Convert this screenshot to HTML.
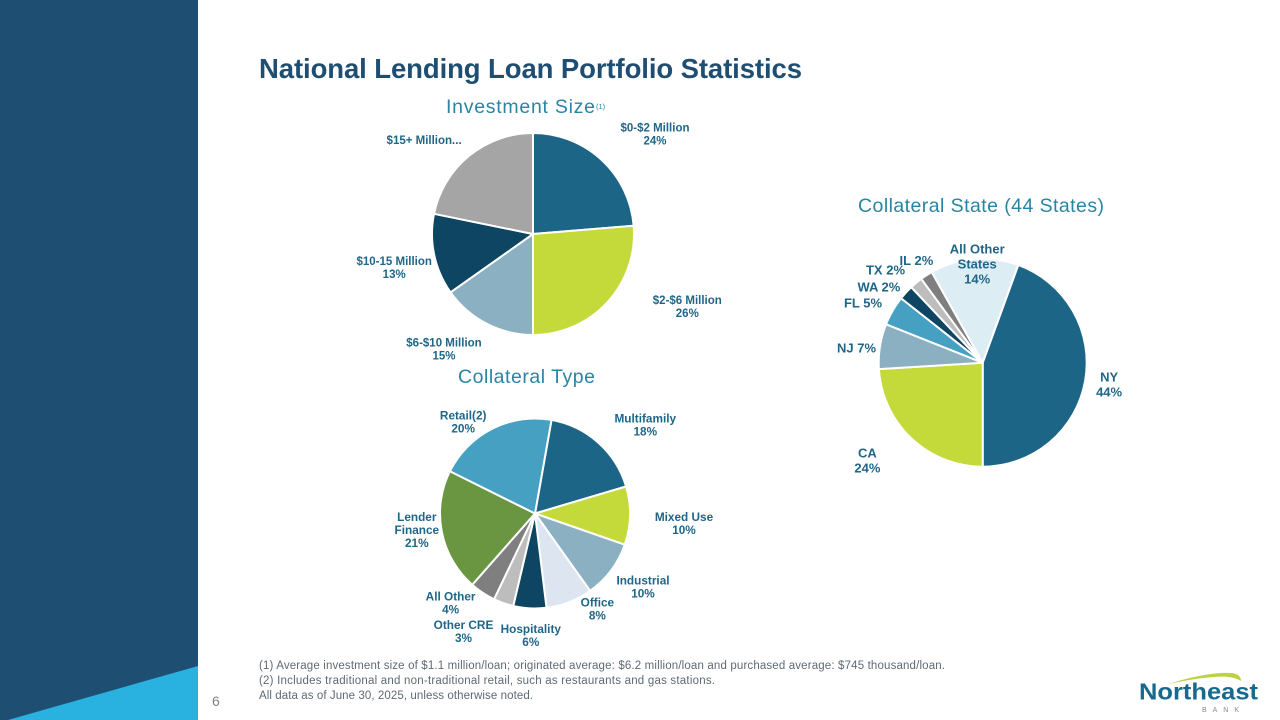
<!DOCTYPE html>
<html lang="en">
<head>
<meta charset="utf-8">
<title>National Lending Loan Portfolio Statistics</title>
<style>
html,body{margin:0;padding:0;background:#fff;}
#slide{display:block;width:1280px;height:720px;font-family:"Liberation Sans",sans-serif;}
.pie-label{font-weight:700;fill:#1f6688;text-anchor:middle;}
.pie-title{font-size:19.5px;fill:#2a84a3;}
.foot{font-size:11.5px;fill:#5e6a72;}
</style>
</head>
<body>
<svg id="slide" xmlns="http://www.w3.org/2000/svg" width="1280" height="720" viewBox="0 0 1280 720">
  <rect width="1280" height="720" fill="#ffffff"/>
  <rect x="0" y="0" width="198" height="720" fill="#1f4e73"/>
  <polygon points="198,666 198,720 8,720" fill="#29b2df"/>
  <text x="259" y="78" font-size="27.5" font-weight="700" fill="#1f4e73" textLength="543">National Lending Loan Portfolio Statistics</text>

  <text class="pie-title" x="446" y="113" textLength="149">Investment Size</text>
  <text x="596" y="109" font-size="7.5" fill="#2a84a3">(1)</text>
  <text class="pie-title" x="458" y="383" textLength="137">Collateral Type</text>
  <text class="pie-title" x="858" y="212" textLength="246">Collateral State (44 States)</text>

  <g id="investment-pie"></g>
  <g id="type-pie"></g>
  <g id="state-pie"></g>

  <text class="foot" x="259" y="669" textLength="686">(1) Average investment size of $1.1 million/loan; originated average: $6.2 million/loan and purchased average: $745 thousand/loan.</text>
  <text class="foot" x="259" y="684" textLength="456">(2) Includes traditional and non-traditional retail, such as restaurants and gas stations.</text>
  <text class="foot" x="259" y="699" textLength="274">All data as of June 30, 2025, unless otherwise noted.</text>
  <text x="212" y="706" font-size="14" fill="#808080">6</text>

  <g>
    <path d="M1168 684 C1190 677 1215 672 1230 673 C1237 673 1241 676 1241 681 C1234 677 1226 676 1214 677 C1198 678 1183 681 1168 684 Z" fill="#bcd240"/>
    <text x="1139" y="699.5" font-size="23" font-weight="700" fill="#176a8e" textLength="119" lengthAdjust="spacingAndGlyphs">Northeast</text>
    <text x="1202" y="712" font-size="7" fill="#8a8a8a" textLength="37">BANK</text>
  </g>
</svg>
<script>
/* Investment Size */
var investmentValues = [23.7, 26.3, 15.2, 13, 21.8];
var investmentLabels = ["$0-$2 Million|{p}", "$2-$6 Million|{p}", "$6-$10 Million|{p}", "$10-15 Million|{p}", "$15+ Million..."];
var investmentColors = ["#1c6587", "#c4d93a", "#8bb0c2", "#0d4562", "#a5a5a5"];

/* Collateral Type */
var typeValues = [17.6, 9.9, 9.8, 7.9, 5.6, 3.4, 4.4, 20.8, 20.4];
var typeLabels = ["Multifamily|{p}", "Mixed Use|{p}", "Industrial|{p}", "Office|{p}", "Hospitality|{p}", "Other CRE|{p}", "All Other|{p}", "Lender|Finance|{p}", "Retail(2)|{p}"];
var typeColors = ["#1c6587", "#c4d93a", "#8bb0c2", "#dde5f0", "#0d4562", "#bdbdbd", "#7f7f7f", "#6a9541", "#45a0c2"];

/* Collateral State */
var stateValues = [44.4, 24, 7, 4.6, 2.3, 2, 1.9, 13.7];
var stateLabels = ["NY|{p}", "CA|{p}", "NJ {p}", "FL {p}", "WA {p}", "TX {p}", "IL {p}", "All Other|States|{p}"];
var stateColors = ["#1c6587", "#c4d93a", "#8bb0c2", "#45a0c2", "#0d4562", "#bdbdbd", "#7f7f7f", "#ddedf4"];

/* Label placement relative to each slice's outer mid-arc point (layout only). */
var investmentNudgeX = [53.6, 80, -42.6, -40, -45];
var investmentNudgeY = [-26, 4, 25, 12.7, -16];
var typeNudgeX = [47, 54, 32, 28, 1, -40, -32, -25, -29];
var typeNudgeY = [-18, 7.5, 16, 6.5, 27, 28, 10, -2, -7];
var stateNudgeX = [24, -44, -23.5, -29.6, -27, -30.6, -10, 3];
var stateNudgeY = [3.5, 22, 1.7, -8, -5.5, -12.8, -15, 5];

var SVG_NS = 'http://www.w3.org/2000/svg';

function slug(s) {
  return s.split('|')[0].replace('{p}', '').replace(/[^A-Za-z0-9]+/g, '-').replace(/^-|-$/g, '').toLowerCase();
}

function drawPie(targetId, prefix, values, labels, colors, nudgeX, nudgeY, geom) {
  var group = document.getElementById(targetId);
  var total = values.reduce(function (a, b) { return a + b; }, 0);
  var angle = geom.start;
  function px(a, r) { return geom.cx + r * Math.sin(a * Math.PI / 180); }
  function py(a, r) { return geom.cy - r * Math.cos(a * Math.PI / 180); }

  values.forEach(function (v, i) {
    var sweep = v / total * 360;
    var end = angle + sweep;
    var mid = angle + sweep / 2;
    var large = sweep > 180 ? 1 : 0;
    var d = 'M' + geom.cx + ' ' + geom.cy +
      'L' + px(angle, geom.r).toFixed(2) + ' ' + py(angle, geom.r).toFixed(2) +
      'A' + geom.r + ' ' + geom.r + ' 0 ' + large + ' 1 ' + px(end, geom.r).toFixed(2) + ' ' + py(end, geom.r).toFixed(2) + 'Z';
    var slice = document.createElementNS(SVG_NS, 'path');
    slice.setAttribute('d', d);
    slice.setAttribute('fill', colors[i]);
    slice.setAttribute('stroke', '#ffffff');
    slice.setAttribute('stroke-width', '2');
    slice.setAttribute('stroke-linejoin', 'round');
    
    
    group.appendChild(slice);

    var lines = labels[i].replace('{p}', Math.round(v) + '%').split('|');
    var lx = px(mid, geom.r) + nudgeX[i];
    var ly = py(mid, geom.r) + nudgeY[i];
    var text = document.createElementNS(SVG_NS, 'text');
    text.setAttribute('class', 'pie-label');
    text.setAttribute('font-size', geom.font);
    
    
    lines.forEach(function (line, j) {
      var span = document.createElementNS(SVG_NS, 'tspan');
      span.setAttribute('x', lx.toFixed(1));
      span.setAttribute('y', (ly - (lines.length - 1) * geom.lead / 2 + j * geom.lead + geom.font * 0.36).toFixed(1));
      span.textContent = line;
      text.appendChild(span);
    });
    group.appendChild(text);
    angle = end;
  });
}

drawPie('investment-pie', 'investment', investmentValues, investmentLabels, investmentColors, investmentNudgeX, investmentNudgeY,
  {cx: 533, cy: 234, r: 101, start: 0, font: 11.5, lead: 13});
drawPie('type-pie', 'type', typeValues, typeLabels, typeColors, typeNudgeX, typeNudgeY,
  {cx: 535, cy: 513.5, r: 95, start: 10, font: 11.8, lead: 13});
drawPie('state-pie', 'state', stateValues, stateLabels, stateColors, stateNudgeX, stateNudgeY,
  {cx: 982.7, cy: 362.7, r: 104, start: 20, font: 13, lead: 15});
</script>
</body>
</html>
